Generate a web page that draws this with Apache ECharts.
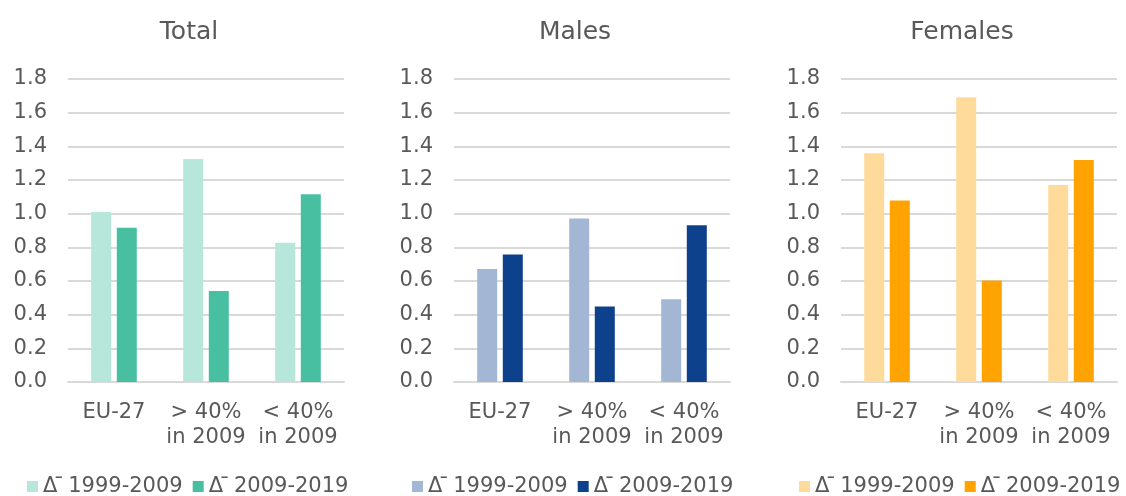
<!DOCTYPE html>
<html>
<head>
<meta charset="utf-8">
<script src="https://cdn.jsdelivr.net/npm/echarts@6/dist/echarts.min.js"></script>
<style>
html,body{margin:0;padding:0;background:#fff;}
#c{width:1126px;height:496px;}
</style>
</head>
<body>
<div id="c"></div>
<script>
const categories = ['EU-27', '> 40%\nin 2009', '< 40%\nin 2009'];
const panelTitles = ['Total', 'Males', 'Females'];
const periodLabels = ['\u0394 \u0304\u20091999-2009', '\u0394 \u0304\u20092009-2019'];
const yTicks = [0, 0.2, 0.4, 0.6, 0.8, 1.0, 1.2, 1.4, 1.6, 1.8];

const total1999 = [1.01, 1.325, 0.827];
const total2009 = [0.917, 0.54, 1.116];
const males1999 = [0.671, 0.972, 0.492];
const males2009 = [0.758, 0.449, 0.931];
const females1999 = [1.359, 1.691, 1.171];
const females2009 = [1.078, 0.603, 1.319];

const panelData = [[total1999, total2009], [males1999, males2009], [females1999, females2009]];
const colors = [['#B7E6DA', '#48BFA0'], ['#A3B6D4', '#0E418C'], ['#FFDB9B', '#FFA300']];

const gridLefts = [68, 454, 841];
const gridWidth = 276;
const titleCenters = [184, 570, 957];
const legendLefts = [27, 412, 799];
const textColor = '#595959';
const fontFamily = 'DejaVu Sans, Verdana, sans-serif';

const option = {
  animation: false,
  backgroundColor: '#fff',
  textStyle: { fontFamily: fontFamily },
  title: panelTitles.map((t, i) => ({
    text: t,
    left: titleCenters[i],
    textAlign: 'center',
    top: 15,
    textStyle: { fontFamily: fontFamily, fontSize: 25, fontWeight: 'normal', color: textColor }
  })),
  legend: panelTitles.map((t, i) => ({
    left: legendLefts[i],
    top: 476,
    width: 380,
    padding: 0,
    itemWidth: 11,
    itemHeight: 11,
    itemGap: 10,
    icon: 'rect',
    data: [t + '|0', t + '|1'],
    formatter: function (name) { return periodLabels[+name.split('|')[1]]; },
    textStyle: { fontFamily: fontFamily, fontSize: 21, color: textColor }
  })),
  grid: gridLefts.map(l => ({ left: l, width: gridWidth, top: 79, height: 303 })),
  xAxis: gridLefts.map((l, i) => ({
    type: 'category',
    gridIndex: i,
    data: categories,
    axisTick: { show: false },
    axisLine: { lineStyle: { color: '#D9D9D9', width: 2 } },
    axisLabel: { color: textColor, fontSize: 21, lineHeight: 25, margin: 18, interval: 0, fontFamily: fontFamily }
  })),
  yAxis: gridLefts.map((l, i) => ({
    type: 'value',
    gridIndex: i,
    min: 0,
    max: 1.8,
    interval: 0.2,
    axisLine: { show: false },
    axisTick: { show: false },
    splitLine: { lineStyle: { color: '#D9D9D9', width: 2 } },
    axisLabel: {
      color: textColor, fontSize: 21, margin: 21, fontFamily: fontFamily,
      formatter: v => {
        const t = yTicks.find(x => Math.abs(x - v) < 1e-6);
        return (t !== undefined ? t : v).toFixed(1);
      }
    }
  })),
  series: []
};

panelTitles.forEach((t, i) => {
  [0, 1].forEach(k => {
    option.series.push({
      name: t + '|' + k,
      type: 'bar',
      xAxisIndex: i,
      yAxisIndex: i,
      data: panelData[i][k],
      barWidth: 20,
      barGap: '28%',
      itemStyle: { color: colors[i][k] }
    });
  });
});

const chart = echarts.init(document.getElementById('c'), null, { renderer: 'canvas' });
chart.setOption(option);
</script>
</body>
</html>
